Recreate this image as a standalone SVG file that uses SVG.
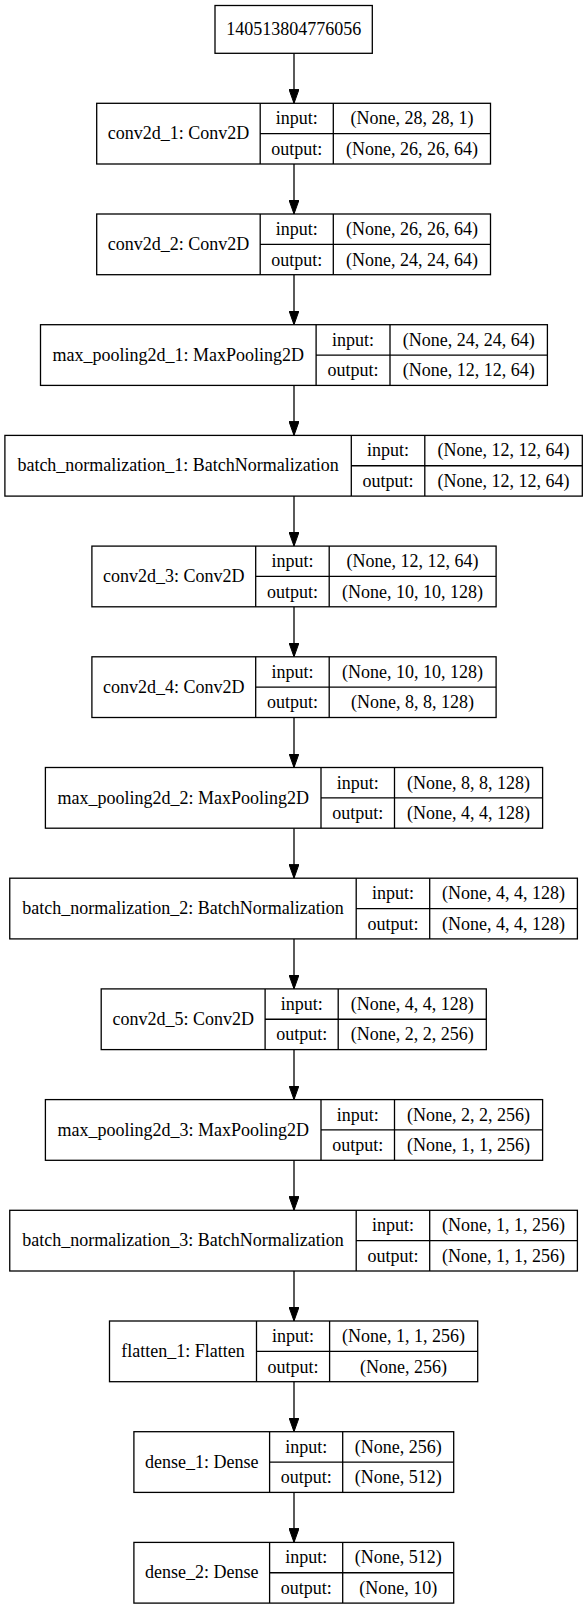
<svg xmlns="http://www.w3.org/2000/svg" width="588" height="1609" viewBox="0 0 588 1609">
<style>
.b{fill:#fff;stroke:#000;stroke-width:1.3}
.l{stroke:#000;stroke-width:1.3;fill:none}
text{font-family:"Liberation Serif","Times New Roman",serif;font-size:18px;fill:#000;text-anchor:middle}
.e{stroke:#000;stroke-width:1.3;fill:none;marker-end:url(#ah)}
</style>
<defs>
<marker id="ah" markerUnits="userSpaceOnUse" markerWidth="14" markerHeight="10" refX="14" refY="5" orient="auto">
<path d="M0,0 L14,5 L0,10 z" fill="#000" stroke="#000" stroke-width="1"/>
</marker>
</defs>
<rect width="588" height="1609" fill="#fff"/>
<g id="connectors">
<path class="e" d="M294,53.3 V103.3"/>
<path class="e" d="M294,164 V214"/>
<path class="e" d="M294,274.7 V324.7"/>
<path class="e" d="M294,385.4 V435.4"/>
<path class="e" d="M294,496.1 V546.1"/>
<path class="e" d="M294,606.8 V656.8"/>
<path class="e" d="M294,717.5 V767.5"/>
<path class="e" d="M294,828.2 V878.2"/>
<path class="e" d="M294,938.9 V988.9"/>
<path class="e" d="M294,1049.6 V1099.6"/>
<path class="e" d="M294,1160.3 V1210.3"/>
<path class="e" d="M294,1271 V1321"/>
<path class="e" d="M294,1381.7 V1431.7"/>
<path class="e" d="M294,1492.4 V1542.4"/>
</g>
<g id="input_node">
<rect class="b" x="215" y="5.5" width="157.3" height="47.8"/>
<text x="293.7" y="35">140513804776056</text>
</g>
<g id="conv2d_1" transform="translate(0,103.3)">
<rect class="b" x="96.7" y="0" width="393.8" height="60.7"/>
<path class="l" d="M260.2,0 V60.7 M333.3,0 V60.7 M260.2,30.35 H490.5"/>
<text x="178.5" y="36">conv2d_1: Conv2D</text>
<text x="296.8" y="21">input:</text><text x="296.8" y="51.5">output:</text>
<text x="411.9" y="21">(None, 28, 28, 1)</text><text x="411.9" y="51.5">(None, 26, 26, 64)</text>
</g>
<g id="conv2d_2" transform="translate(0,214)">
<rect class="b" x="96.7" y="0" width="393.8" height="60.7"/>
<path class="l" d="M260.2,0 V60.7 M333.3,0 V60.7 M260.2,30.35 H490.5"/>
<text x="178.5" y="36">conv2d_2: Conv2D</text>
<text x="296.8" y="21">input:</text><text x="296.8" y="51.5">output:</text>
<text x="411.9" y="21">(None, 26, 26, 64)</text><text x="411.9" y="51.5">(None, 24, 24, 64)</text>
</g>
<g id="max_pooling2d_1" transform="translate(0,324.7)">
<rect class="b" x="40.5" y="0" width="506.9" height="60.7"/>
<path class="l" d="M316.1,0 V60.7 M390,0 V60.7 M316.1,30.35 H547.4"/>
<text x="178.3" y="36">max_pooling2d_1: MaxPooling2D</text>
<text x="353" y="21">input:</text><text x="353" y="51.5">output:</text>
<text x="468.7" y="21">(None, 24, 24, 64)</text><text x="468.7" y="51.5">(None, 12, 12, 64)</text>
</g>
<g id="batch_normalization_1" transform="translate(0,435.4)">
<rect class="b" x="4.9" y="0" width="577.4" height="60.7"/>
<path class="l" d="M351.3,0 V60.7 M424.8,0 V60.7 M351.3,30.35 H582.3"/>
<text x="178.1" y="36">batch_normalization_1: BatchNormalization</text>
<text x="388" y="21">input:</text><text x="388" y="51.5">output:</text>
<text x="503.5" y="21">(None, 12, 12, 64)</text><text x="503.5" y="51.5">(None, 12, 12, 64)</text>
</g>
<g id="conv2d_3" transform="translate(0,546.1)">
<rect class="b" x="91.9" y="0" width="404.2" height="60.7"/>
<path class="l" d="M255.7,0 V60.7 M329.2,0 V60.7 M255.7,30.35 H496.1"/>
<text x="173.8" y="36">conv2d_3: Conv2D</text>
<text x="292.4" y="21">input:</text><text x="292.4" y="51.5">output:</text>
<text x="412.6" y="21">(None, 12, 12, 64)</text><text x="412.6" y="51.5">(None, 10, 10, 128)</text>
</g>
<g id="conv2d_4" transform="translate(0,656.8)">
<rect class="b" x="91.9" y="0" width="404.2" height="60.7"/>
<path class="l" d="M255.7,0 V60.7 M329.2,0 V60.7 M255.7,30.35 H496.1"/>
<text x="173.8" y="36">conv2d_4: Conv2D</text>
<text x="292.4" y="21">input:</text><text x="292.4" y="51.5">output:</text>
<text x="412.6" y="21">(None, 10, 10, 128)</text><text x="412.6" y="51.5">(None, 8, 8, 128)</text>
</g>
<g id="max_pooling2d_2" transform="translate(0,767.5)">
<rect class="b" x="45.4" y="0" width="497.2" height="60.7"/>
<path class="l" d="M321,0 V60.7 M394.5,0 V60.7 M321,30.35 H542.6"/>
<text x="183.2" y="36">max_pooling2d_2: MaxPooling2D</text>
<text x="357.7" y="21">input:</text><text x="357.7" y="51.5">output:</text>
<text x="468.5" y="21">(None, 8, 8, 128)</text><text x="468.5" y="51.5">(None, 4, 4, 128)</text>
</g>
<g id="batch_normalization_2" transform="translate(0,878.2)">
<rect class="b" x="9.75" y="0" width="567.65" height="60.7"/>
<path class="l" d="M356.2,0 V60.7 M429.7,0 V60.7 M356.2,30.35 H577.4"/>
<text x="183" y="36">batch_normalization_2: BatchNormalization</text>
<text x="393" y="21">input:</text><text x="393" y="51.5">output:</text>
<text x="503.5" y="21">(None, 4, 4, 128)</text><text x="503.5" y="51.5">(None, 4, 4, 128)</text>
</g>
<g id="conv2d_5" transform="translate(0,988.9)">
<rect class="b" x="101.2" y="0" width="385.1" height="60.7"/>
<path class="l" d="M265.1,0 V60.7 M338.2,0 V60.7 M265.1,30.35 H486.3"/>
<text x="183.2" y="36">conv2d_5: Conv2D</text>
<text x="301.7" y="21">input:</text><text x="301.7" y="51.5">output:</text>
<text x="412.3" y="21">(None, 4, 4, 128)</text><text x="412.3" y="51.5">(None, 2, 2, 256)</text>
</g>
<g id="max_pooling2d_3" transform="translate(0,1099.6)">
<rect class="b" x="45.4" y="0" width="497.2" height="60.7"/>
<path class="l" d="M321,0 V60.7 M394.5,0 V60.7 M321,30.35 H542.6"/>
<text x="183.2" y="36">max_pooling2d_3: MaxPooling2D</text>
<text x="357.7" y="21">input:</text><text x="357.7" y="51.5">output:</text>
<text x="468.5" y="21">(None, 2, 2, 256)</text><text x="468.5" y="51.5">(None, 1, 1, 256)</text>
</g>
<g id="batch_normalization_3" transform="translate(0,1210.3)">
<rect class="b" x="9.75" y="0" width="567.65" height="60.7"/>
<path class="l" d="M356.2,0 V60.7 M429.7,0 V60.7 M356.2,30.35 H577.4"/>
<text x="183" y="36">batch_normalization_3: BatchNormalization</text>
<text x="393" y="21">input:</text><text x="393" y="51.5">output:</text>
<text x="503.5" y="21">(None, 1, 1, 256)</text><text x="503.5" y="51.5">(None, 1, 1, 256)</text>
</g>
<g id="flatten_1" transform="translate(0,1321)">
<rect class="b" x="109.5" y="0" width="368.2" height="60.7"/>
<path class="l" d="M256.5,0 V60.7 M329.6,0 V60.7 M256.5,30.35 H477.7"/>
<text x="183" y="36">flatten_1: Flatten</text>
<text x="293" y="21">input:</text><text x="293" y="51.5">output:</text>
<text x="403.6" y="21">(None, 1, 1, 256)</text><text x="403.6" y="51.5">(None, 256)</text>
</g>
<g id="dense_1" transform="translate(0,1431.7)">
<rect class="b" x="133.9" y="0" width="319.8" height="60.7"/>
<path class="l" d="M269.6,0 V60.7 M342.7,0 V60.7 M269.6,30.35 H453.7"/>
<text x="201.7" y="36">dense_1: Dense</text>
<text x="306.2" y="21">input:</text><text x="306.2" y="51.5">output:</text>
<text x="398.2" y="21">(None, 256)</text><text x="398.2" y="51.5">(None, 512)</text>
</g>
<g id="dense_2" transform="translate(0,1542.4)">
<rect class="b" x="133.9" y="0" width="319.8" height="60.7"/>
<path class="l" d="M269.6,0 V60.7 M342.7,0 V60.7 M269.6,30.35 H453.7"/>
<text x="201.7" y="36">dense_2: Dense</text>
<text x="306.2" y="21">input:</text><text x="306.2" y="51.5">output:</text>
<text x="398.2" y="21">(None, 512)</text><text x="398.2" y="51.5">(None, 10)</text>
</g>
</svg>
